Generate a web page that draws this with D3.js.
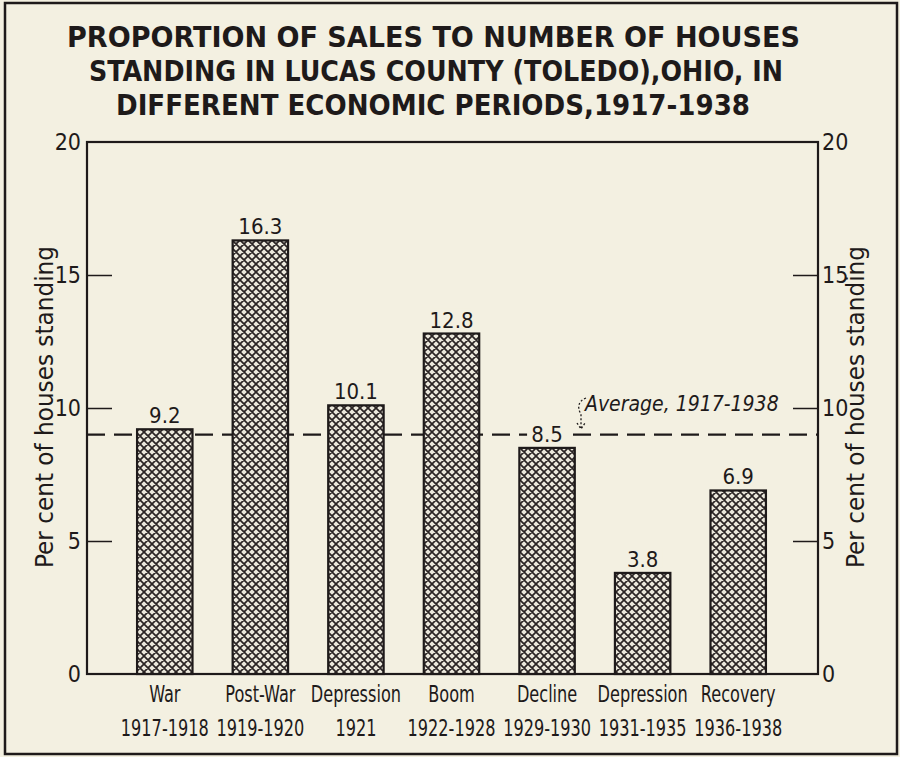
<!DOCTYPE html>
<html>
<head>
<meta charset="utf-8">
<script src="https://cdn.jsdelivr.net/npm/d3@7"></script>
<style>
  body { margin: 0; background: #f3f0e1; }
  text { font-family: "DejaVu Sans Condensed", "Liberation Sans Narrow", sans-serif; fill: #1e1a1a; }
</style>
</head>
<body>
<div id="chart"></div>
<script>
// data
const periods = ["War", "Post-War", "Depression", "Boom", "Decline", "Depression", "Recovery"];
const years = ["1917-1918", "1919-1920", "1921", "1922-1928", "1929-1930", "1931-1935", "1936-1938"];
const values = [9.2, 16.3, 10.1, 12.8, 8.5, 3.8, 6.9];
const average = 9.0;
const yTicks = [0, 5, 10, 15, 20];
const titleLines = [
  "PROPORTION OF SALES TO NUMBER OF HOUSES",
  "STANDING IN LUCAS COUNTY (TOLEDO),OHIO, IN",
  "DIFFERENT ECONOMIC PERIODS,1917-1938"
];

const W = 900, H = 757;
const ink = "#1e1a1a";
const margin = { left: 87, right: 82, top: 142, bottom: 83 };

const svg = d3.select("#chart").append("svg")
  .attr("width", W).attr("height", H);

svg.append("rect").attr("width", W).attr("height", H).attr("fill", "#f3f0e1");

// outer frame
svg.append("rect")
  .attr("x", 5).attr("y", 3).attr("width", 892).attr("height", 751)
  .attr("fill", "none").attr("stroke", ink).attr("stroke-width", 2.5);

// crosshatch pattern for the bars
const defs = svg.append("defs");
const pat = defs.append("pattern")
  .attr("id", "hatch").attr("patternUnits", "userSpaceOnUse")
  .attr("width", 8).attr("height", 8);
pat.append("rect").attr("width", 8).attr("height", 8).attr("fill", "#ebe8dc");
pat.append("path").attr("d", "M-2,2 L2,-2 M0,8 L8,0 M6,10 L10,6 M-2,6 L2,10 M0,0 L8,8 M6,-2 L10,2")
  .attr("stroke", "#2a2424").attr("stroke-width", 1.7);

// scales
const y = d3.scaleLinear().domain([0, 20]).range([H - margin.bottom, margin.top]);
const x = d3.scaleBand().domain(d3.range(values.length))
  .range([117, 786]).paddingInner(0.42).paddingOuter(0.21);

const x0 = margin.left, x1 = W - margin.right;

// title
const titleSpan = [[67, 800], [89, 783], [116, 750]];
svg.append("g").selectAll("text").data(titleLines).enter().append("text")
  .attr("x", (d, i) => titleSpan[i][0])
  .attr("y", (d, i) => 47 + i * 34)
  .attr("textLength", (d, i) => titleSpan[i][1] - titleSpan[i][0])
  .attr("lengthAdjust", "spacingAndGlyphs")
  .style("font-size", "29px")
  .style("font-weight", "bold")
  .text(d => d);

// plot box: left axis, right axis, top and bottom lines
svg.append("rect")
  .attr("x", x0).attr("y", y(20)).attr("width", x1 - x0).attr("height", y(0) - y(20))
  .attr("fill", "none").attr("stroke", ink).attr("stroke-width", 2.2);

// left axis ticks + labels
const leftAxis = d3.axisRight(y).tickValues(yTicks.slice(1, 4)).tickSize(25).tickFormat("");
svg.append("g").attr("transform", "translate(" + x0 + ",0)").call(leftAxis)
  .call(g => g.select(".domain").remove())
  .call(g => g.selectAll("line").attr("stroke", ink).attr("stroke-width", 1.5));
svg.append("g").selectAll("text").data(yTicks).enter().append("text")
  .attr("x", x0 - 6).attr("y", d => y(d) + 8)
  .attr("text-anchor", "end").style("font-size", "23px")
  .text(d => d);

// right axis ticks + labels
const rightAxis = d3.axisLeft(y).tickValues(yTicks.slice(1, 4)).tickSize(25).tickFormat("");
svg.append("g").attr("transform", "translate(" + x1 + ",0)").call(rightAxis)
  .call(g => g.select(".domain").remove())
  .call(g => g.selectAll("line").attr("stroke", ink).attr("stroke-width", 1.5));
svg.append("g").selectAll("text").data(yTicks).enter().append("text")
  .attr("x", x1 + 4).attr("y", d => y(d) + 8)
  .attr("text-anchor", "start").style("font-size", "23px")
  .text(d => d);

// axis titles
[53, 864].forEach(ax => {
  svg.append("text")
    .attr("transform", "translate(" + ax + ",407) rotate(-90)")
    .attr("x", -161)
    .attr("textLength", 322).attr("lengthAdjust", "spacingAndGlyphs")
    .style("font-size", "24px")
    .text("Per cent of houses standing");
});

// average line
svg.append("line")
  .attr("x1", x0).attr("x2", x1)
  .attr("y1", y(average)).attr("y2", y(average))
  .attr("stroke", ink).attr("stroke-width", 2.2)
  .attr("stroke-dasharray", "18,9");

// bars
svg.append("g").selectAll("rect").data(values).enter().append("rect")
  .attr("x", (d, i) => x(i))
  .attr("y", d => y(d))
  .attr("width", x.bandwidth())
  .attr("height", d => y(0) - y(d))
  .attr("fill", "url(#hatch)")
  .attr("stroke", ink).attr("stroke-width", 2.2);

// value labels (cream backing so the dashed line breaks around them)
const vl = svg.append("g").selectAll("g").data(values).enter().append("g");
vl.append("rect")
  .attr("x", (d, i) => x(i) + x.bandwidth() / 2 - 20)
  .attr("y", d => y(d) - 25)
  .attr("width", 40).attr("height", 20)
  .attr("fill", "#f3f0e1");
vl.append("text")
  .attr("x", (d, i) => x(i) + x.bandwidth() / 2)
  .attr("y", d => y(d) - 6)
  .attr("text-anchor", "middle").style("font-size", "22px")
  .text(d => d.toFixed(1));

// average annotation
svg.append("text")
  .attr("x", 585).attr("y", 411)
  .style("font-size", "21px").style("font-style", "italic")
  .text("Average, 1917-1938");
svg.append("path")
  .attr("d", "M586,398 C578,401 577,408 581,414 L581,428 M577,423 L581,429 L585,423")
  .attr("fill", "none").attr("stroke", ink).attr("stroke-width", 1.3)
  .attr("stroke-dasharray", "2,2");

// category labels (narrow lettering)
const cat = svg.append("g").selectAll("g").data(periods).enter().append("g")
  .attr("transform", (d, i) => "translate(" + (x(i) + x.bandwidth() / 2) + ",0) scale(0.78,1)");
cat.append("text")
  .attr("x", 0).attr("y", 702)
  .attr("text-anchor", "middle").style("font-size", "23px")
  .text(d => d);
cat.append("text")
  .attr("x", 0).attr("y", 736)
  .attr("text-anchor", "middle").style("font-size", "23px")
  .text((d, i) => years[i]);
</script>
</body>
</html>
